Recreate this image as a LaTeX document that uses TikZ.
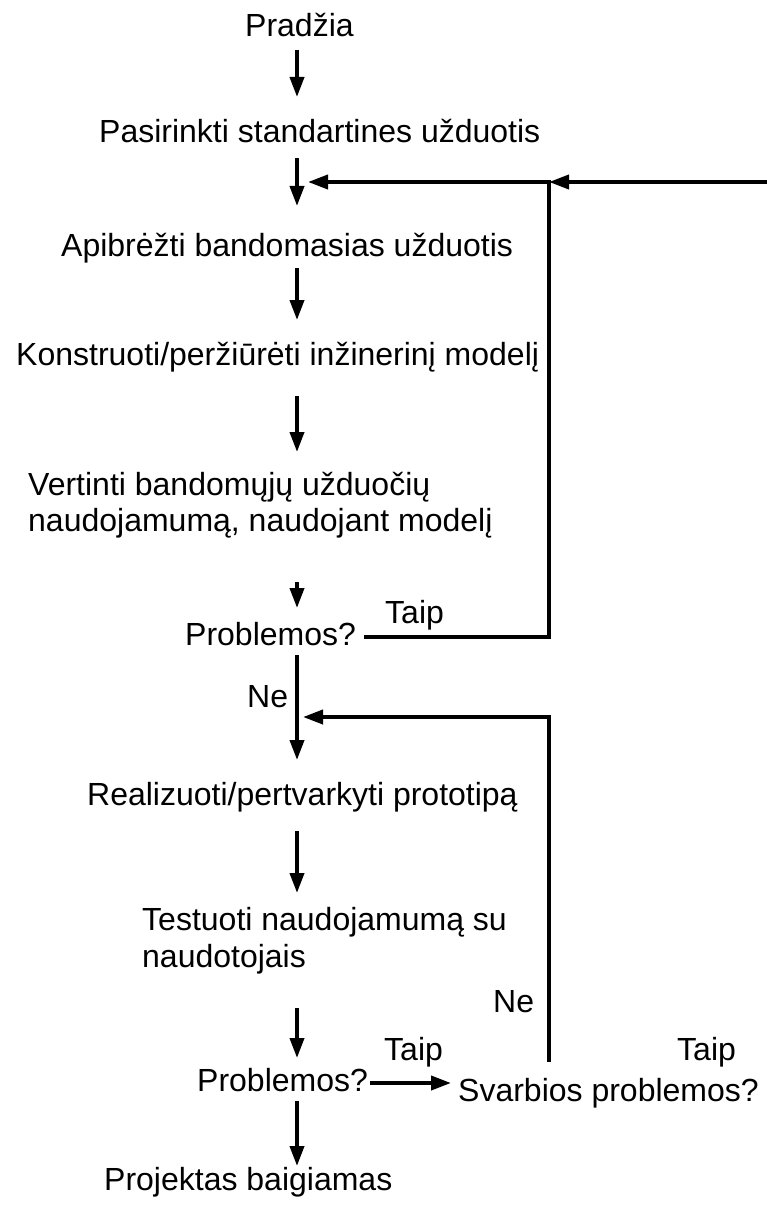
\documentclass[tikz,border=0pt]{standalone}
\usepackage{fontspec}
\setmainfont{Liberation Sans}
\usetikzlibrary{arrows.meta,calc}

\tikzset{
  lbl/.style={anchor=base west, inner sep=0pt, font=\fontsize{32}{37}\selectfont},
  wire/.style={line width=3.8pt, line cap=rect, line join=miter},
  arr/.style={wire, -{Triangle[length=20pt,width=14pt]}},
}

\begin{document}
\begin{tikzpicture}[x=1pt,y=-1pt]
  \useasboundingbox (0,0) rectangle (767,1206);
  \fill[white] (0,0) rectangle (767,1206);

  % main column of the flow
  \coordinate (spine) at (297,0);

  % step texts
  \node[lbl] (start)  at (245,37)   {Pradžia};
  \node[lbl] (pick)   at (99,143)   {Pasirinkti standartines užduotis};
  \node[lbl] (define) at (61,256)   {Apibrėžti bandomasias užduotis};
  \node[lbl] (build)  at (16,365)   {Konstruoti/peržiūrėti inžinerinį modelį};
  \node[lbl] (evalA)  at (28,495)   {Vertinti bandomųjų užduočių};
  \node[lbl] (evalB)  at (28,531)   {naudojamumą, naudojant modelį};
  \node[lbl] (prob1)  at (185,645)  {Problemos?};
  \node[lbl] (proto)  at (87,805)   {Realizuoti/pertvarkyti prototipą};
  \node[lbl] (testA)  at (142,930)  {Testuoti naudojamumą su};
  \node[lbl] (testB)  at (142,967)  {naudotojais};
  \node[lbl] (prob2)  at (197,1091) {Problemos?};
  \node[lbl] (major)  at (458,1101) {Svarbios problemos?};
  \node[lbl] (finish) at (104,1190) {Projektas baigiamas};

  % branch labels
  \node[lbl] (yes1) at (385,623)  {Taip};
  \node[lbl] (no1)  at (247,707)  {Ne};
  \node[lbl] (no2)  at (493,1012) {Ne};
  \node[lbl] (yes2) at (384,1060) {Taip};
  \node[lbl] (yes3) at (677,1060) {Taip};

  % downward arrows along the spine
  \draw[arr] ($(start.base -| spine)+(0,15)$)  -- ($(pick.base -| spine)+(0,-46)$);
  \draw[arr] ($(pick.base -| spine)+(0,17)$)   -- ($(define.base -| spine)+(0,-50)$);
  \draw[arr] ($(define.base -| spine)+(0,14)$) -- ($(build.base -| spine)+(0,-45)$);
  \draw[arr] ($(build.base -| spine)+(0,33)$)  -- ($(evalA.base -| spine)+(0,-43)$);
  \draw[arr] ($(evalB.base -| spine)+(0,53)$)  -- ($(prob1.base -| spine)+(0,-37)$);
  \draw[arr] ($(prob1.base -| spine)+(0,12)$)  -- ($(proto.base -| spine)+(0,-45)$);
  \draw[arr] ($(proto.base -| spine)+(0,28)$)  -- ($(testA.base -| spine)+(0,-37)$);
  \draw[arr] ($(testB.base -| spine)+(0,43)$)  -- ($(prob2.base -| spine)+(0,-33)$);
  \draw[arr] ($(prob2.base -| spine)+(0,12)$)  -- ($(finish.base -| spine)+(0,-24)$);

  % yes branch of the second check
  \draw[arr] ($(prob2.base east)+(4,-8)$) -- ($(major.base west)+(-7,-18)$);

  % loop back from the first check
  \coordinate (join) at (549,182);
  \coordinate (rin)  at (767,182);
  \draw[arr] (rin) -- (join);
  \draw[wire] ($(prob1.base east)+(10,-8)$) -| (join);
  \draw[arr] (join) -- ($(pick.base -| spine)+(11,39)$);

  % loop back from the major-problem check
  \draw[arr] ($(major.base west)+(91,-41)$) |- ($(no1.base -| spine)+(6,10)$);
\end{tikzpicture}
\end{document}
